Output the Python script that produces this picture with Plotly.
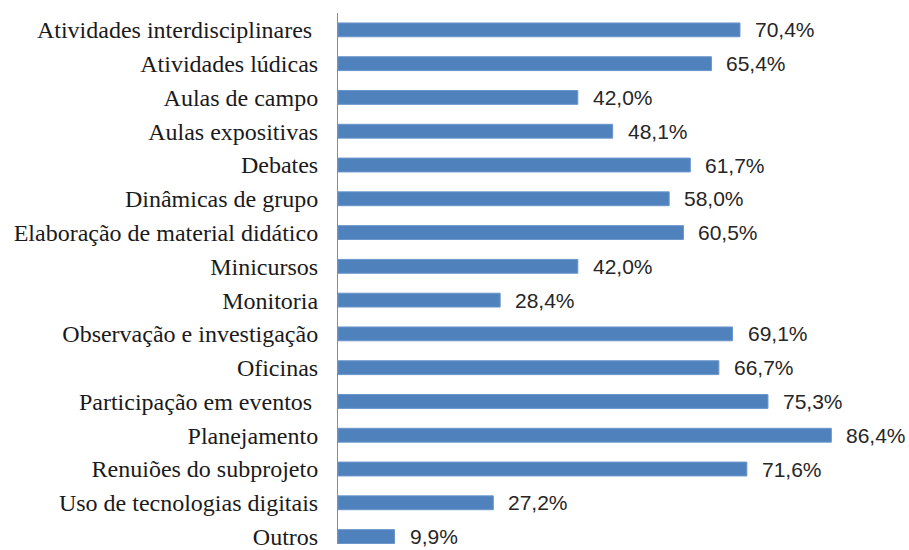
import plotly.graph_objects as go

categories = [
    "Atividades interdisciplinares\u00a0",
    "Atividades lúdicas",
    "Aulas de campo",
    "Aulas expositivas",
    "Debates",
    "Dinâmicas de grupo",
    "Elaboração de material didático",
    "Minicursos",
    "Monitoria",
    "Observação e investigação",
    "Oficinas",
    "Participação em eventos\u00a0",
    "Planejamento",
    "Renuiões do subprojeto",
    "Uso de tecnologias digitais",
    "Outros",
]
values = [70.4, 65.4, 42.0, 48.1, 61.7, 58.0, 60.5, 42.0, 28.4, 69.1, 66.7, 75.3, 86.4, 71.6, 27.2, 9.9]
value_labels = [f"{v:.1f}%".replace(".", ",") for v in values]

fig = go.Figure()
fig.add_trace(go.Bar(
    x=values,
    y=categories,
    orientation="h",
    marker=dict(color="#4F81BD", line=dict(color="#6B96CC", width=1)),
    hoverinfo="skip",
))

for c, v, t in zip(categories, values, value_labels):
    fig.add_annotation(
        x=v, y=c, text=t, showarrow=False, xanchor="left", yanchor="middle",
        xshift=13, yshift=0,
        font=dict(family="Liberation Sans", size=21, color="#262626"),
    )

n = len(categories)
fig.update_layout(
    width=909, height=550,
    margin=dict(l=338, r=0, t=13, b=0),
    paper_bgcolor="white", plot_bgcolor="white",
    bargap=0.59,
    showlegend=False,
    xaxis=dict(range=[0, 100], visible=False, fixedrange=True),
    yaxis=dict(
        type="category",
        categoryorder="array", categoryarray=categories,
        range=[n - 1 + 0.22, -0.5],
        showline=True, linecolor="#8C8C8C", linewidth=1,
        showgrid=False, ticks="", zeroline=False,
        ticklabelstandoff=14,
        tickfont=dict(family="Liberation Serif", size=24, color="#1a1a1a"),
    ),
)

fig.write_html(
    "out.html",
    config={"displayModeBar": False, "staticPlot": True},
    post_script="document.body.style.margin='0';document.body.style.overflow='hidden';",
)
